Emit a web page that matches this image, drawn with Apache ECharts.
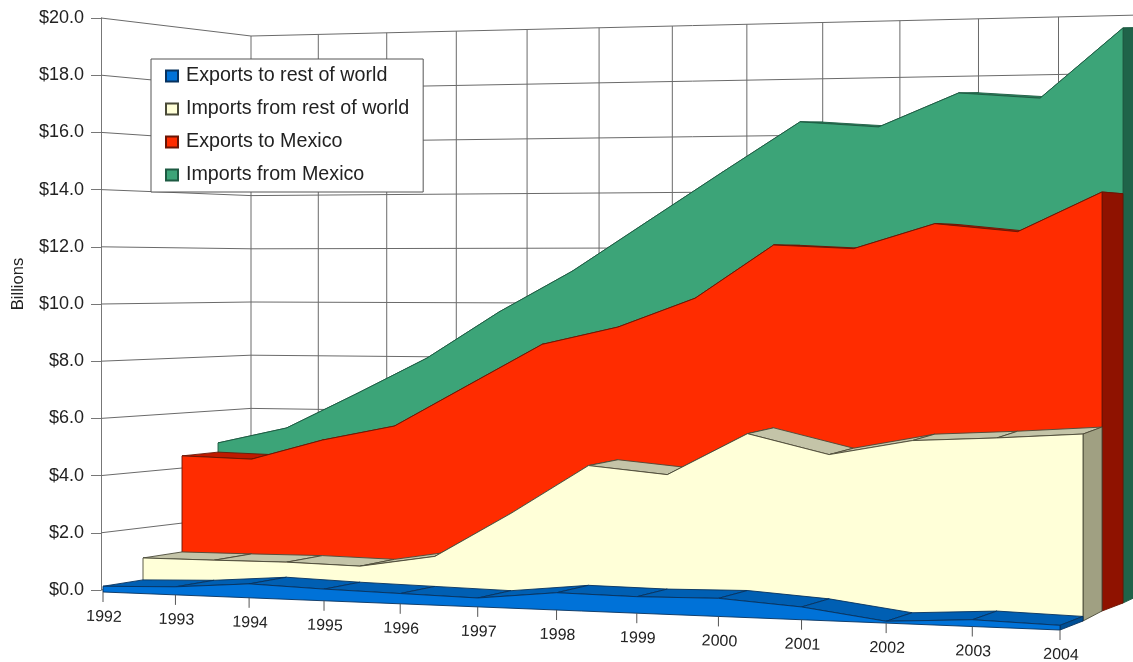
<!DOCTYPE html>
<html><head><meta charset="utf-8">
<style>html,body{margin:0;padding:0;background:#fff}#c{width:1133px;height:662px}</style>
<script src="https://cdn.jsdelivr.net/npm/echarts@6/dist/echarts.min.js"></script>
</head><body><div id="c"></div>
<script>
// Data: cumulative heights in $ billions
var years = ['1992','1993','1994','1995','1996','1997','1998','1999','2000','2001','2002','2003','2004'];
var valueTicks = [0,2,4,6,8,10,12,14,16,18,20];
var exportsRest = [0.20,0.28,0.48,0.40,0.35,0.30,0.58,0.55,0.60,0.42,0.06,0.22,0.15];
var importsRest = [0.98,0.99,1.01,0.96,1.39,2.96,4.67,4.43,5.88,5.24,5.77,5.92,6.11];
var exportsMexico = [4.46,4.40,5.14,5.69,7.17,8.65,9.28,10.30,12.14,12.02,12.87,12.60,13.92];
var importsMexico = [4.80,5.40,6.69,8.03,9.72,11.20,12.96,14.72,16.46,16.26,17.41,17.20,19.56];

// Perspective set-up: one plane per depth step, from front (0) to back wall (4)
var G = {left:101, top:18, width:960, height:572};
var R = 1.11;
var PLANES = [
  {xL:103,y0L:592,  sL:28.6,xR:1060,y0R:630,sR:31.1},
  {xL:143,y0L:585.5,sL:28.1,xR:1083,y0R:621,sR:30.6},
  {xL:182,y0L:579,  sL:27.6,xR:1102,y0R:611,sR:30.1},
  {xL:218,y0L:573,  sL:27.1,xR:1123,y0R:603,sR:29.4},
  {xL:251,y0L:568,  sL:26.6,xR:1140,y0R:595,sR:29.0}
];
function lerp(a,b,t){return a+(b-a)*t;}
function project(pt,d){
  var tau=(pt[0]-G.left)/G.width, frac=(G.top+G.height-pt[1])/G.height;
  var U=tau/(tau+(1-tau)*R), P=PLANES[d];
  return [lerp(P.xL,P.xR,U), lerp(P.y0L,P.y0R,U)-frac*20*lerp(P.sL,P.sR,U)];
}
function poly(points,fill,stroke,z2){
  return {type:'polygon',z2:z2,shape:{points:points},style:{fill:fill,stroke:stroke,lineWidth:0.9,lineJoin:'round'}};
}
function line(a,b,color,w){
  return {type:'line',shape:{x1:a[0],y1:a[1],x2:b[0],y2:b[1]},style:{stroke:color,lineWidth:w||1}};
}
function bandRender(values,d,cFront,cTop,cSide,cEdge){
  return function(params,api){
    if(params.dataIndex!==0) return null;
    var kids=[], n=values.length, i;
    function P(i,v,dd){return project(api.coord([i,v]),dd);}
    for(i=0;i<n-1;i++){
      kids.push(poly([P(i,values[i],d),P(i+1,values[i+1],d),P(i+1,values[i+1],d+1),P(i,values[i],d+1)],cTop,cEdge,1));
    }
    kids.push(poly([P(n-1,values[n-1],d),P(n-1,values[n-1],d+1),P(n-1,0,d+1),P(n-1,0,d)],cSide,cEdge,2));
    var front=[];
    for(i=0;i<n;i++) front.push(P(i,values[i],d));
    front.push(P(n-1,0,d)); front.push(P(0,0,d));
    kids.push(poly(front,cFront,cEdge,3));
    return {type:'group',children:kids};
  };
}
function pairs(values){return values.map(function(v,i){return [i,v];});}
function bandSeries(name,values,d,c,top,side,edge){
  return {type:'custom',name:name,z:3+(3-d),silent:true,coordinateSystem:'cartesian2d',clip:false,
    itemStyle:{color:c,borderColor:edge,borderWidth:1},
    renderItem:bandRender(values,d,c,top,side,edge),data:pairs(values)};
}
var wallColor='#6a6a6a';
var series=[
  {type:'custom',name:'wallV',z:1,silent:true,coordinateSystem:'cartesian2d',clip:false,
   data:years.map(function(y,i){return [i,20];}),
   renderItem:function(p,api){
     var i=api.value(0);
     return line(project(api.coord([i,0]),4),project(api.coord([i,20]),4),wallColor,1);
   }},
  {type:'custom',name:'wallH',z:1,silent:true,coordinateSystem:'cartesian2d',clip:false,
   data:valueTicks.map(function(v){return [0,v];}),
   renderItem:function(p,api){
     var v=api.value(1), left=api.coord([0,v]);
     var a=project(left,4), b=project(api.coord([12,v]),4);
     return {type:'group',children:[line(left,a,wallColor,1),line(a,b,wallColor,1)]};
   }},
  bandSeries('Imports from Mexico',importsMexico,3,'#3ca478','#2f8a63','#1f6349','#1d5a42'),
  bandSeries('Exports to Mexico',exportsMexico,2,'#ff2c00','#bf1a00','#8f1200','#6a1505'),
  bandSeries('Imports from rest of world',importsRest,1,'#ffffd8','#c4c4a8','#a0a082','#4a4a38'),
  bandSeries('Exports to rest of world',exportsRest,0,'#0072d8','#005fb3','#004f96','#07325f'),
  {type:'custom',name:'years',z:8,silent:true,coordinateSystem:'cartesian2d',clip:false,
   data:years.map(function(y,i){return [i,0];}),
   renderItem:function(p,api){
     var i=api.value(0), a=project(api.coord([i,0]),0);
     return {type:'group',children:[
       line(a,[a[0],a[1]+10],'#555',1),
       {type:'text',x:a[0]+1,y:a[1]+25,rotation:-0.035,style:{text:years[i],fill:'#222',fontFamily:'Liberation Sans',fontSize:16,align:'center',verticalAlign:'middle'}}
     ]};
   }}
];
var chart=echarts.init(document.getElementById('c'),null,{renderer:'canvas'});
chart.setOption({
  animation:false,backgroundColor:'#fff',
  grid:{left:G.left,top:G.top,width:G.width,height:G.height},
  xAxis:{type:'value',min:0,max:12,show:false},
  yAxis:{type:'value',min:0,max:20,interval:2,splitLine:{show:false},
    axisLine:{show:true,lineStyle:{color:'#777',width:1}},
    axisTick:{show:true,length:10,lineStyle:{color:'#777'}},
    axisLabel:{margin:17,color:'#222',fontFamily:'Liberation Sans',fontSize:18,
      formatter:function(v){return '$'+v.toFixed(1);}}},
  legend:{left:151,top:59,orient:'vertical',z:20,selectedMode:false,
    data:['Exports to rest of world','Imports from rest of world','Exports to Mexico','Imports from Mexico'],
    backgroundColor:'#fff',borderColor:'#555',borderWidth:1,borderRadius:0,
    padding:[7,14,7,14],itemGap:13,itemWidth:12,itemHeight:11,icon:'rect',
    textStyle:{color:'#222',fontFamily:'Liberation Sans',fontSize:19.7,padding:[0,0,0,3]}},
  graphic:[{type:'text',x:18,y:284,rotation:Math.PI/2,z:10,
    style:{text:'Billions',fill:'#222',fontFamily:'Liberation Sans',fontSize:16.5,align:'center',verticalAlign:'middle'}}],
  series:series
});
</script></body></html>
